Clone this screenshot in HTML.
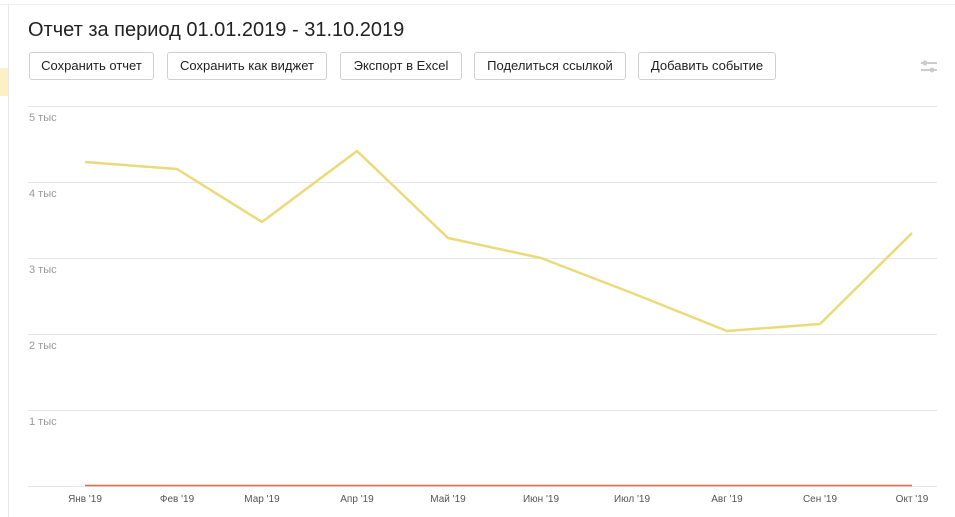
<!DOCTYPE html>
<html><head><meta charset="utf-8"><style>
body{margin:0;width:955px;height:517px;background:#fff;font-family:"Liberation Sans",Arial,sans-serif;position:relative;overflow:hidden}
.btn{position:absolute;top:52px;height:28px;border:1px solid #d0d0d0;border-radius:3px;box-sizing:border-box;font-size:13px;color:#222;text-align:center;line-height:26px;background:#fff}
.yl{position:absolute;left:29px;font-size:11px;color:#999}
.xl{position:absolute;top:494px;font-size:10px;color:#555;width:60px;text-align:center}
</style></head><body>
<div style="position:absolute;left:0;top:4px;width:955px;height:1px;background:#eee"></div>
<div style="position:absolute;left:8px;top:4px;width:1px;height:513px;background:#e8e8e8"></div>
<div style="position:absolute;left:0;top:68px;width:8px;height:28px;background:#fdf0c4"></div>
<div style="position:absolute;left:28px;top:19px;font-size:20px;color:#222">Отчет за период 01.01.2019 - 31.10.2019</div>
<div class="btn" style="left:29px;width:125px">Сохранить отчет</div>
<div class="btn" style="left:167px;width:160px">Сохранить как виджет</div>
<div class="btn" style="left:340px;width:122px">Экспорт в Excel</div>
<div class="btn" style="left:474px;width:152px">Поделиться ссылкой</div>
<div class="btn" style="left:638px;width:138px">Добавить событие</div>
<svg style="position:absolute;left:918px;top:58px" width="22" height="18"><line x1="3" y1="5" x2="19" y2="5" stroke="#ccc" stroke-width="2"/><line x1="3" y1="12" x2="19" y2="12" stroke="#ccc" stroke-width="2"/><circle cx="7" cy="5" r="2.5" fill="#ccc"/><circle cx="14" cy="12" r="2.5" fill="#ccc"/></svg>
<svg style="position:absolute;left:0;top:0" width="955" height="517">
<g stroke="#e6e6e6" stroke-width="1">
<line x1="28" y1="106.5" x2="937" y2="106.5"/><line x1="28" y1="182.5" x2="937" y2="182.5"/><line x1="28" y1="258.5" x2="937" y2="258.5"/><line x1="28" y1="334.5" x2="937" y2="334.5"/><line x1="28" y1="410.5" x2="937" y2="410.5"/><line x1="28" y1="486.5" x2="937" y2="486.5"/>
</g>
<line x1="85" y1="485.5" x2="912" y2="485.5" stroke="#e8664a" stroke-width="1.5"/>
<polyline fill="none" stroke="#ecd97a" stroke-width="2.5" stroke-linejoin="round" points="85,162 177,169 262,222 357,151 448,238 541,258 632,293 727,331 820,324 912,233"/>
</svg>
<div class="yl" style="top:112px">5 тыс</div>
<div class="yl" style="top:188px">4 тыс</div>
<div class="yl" style="top:264px">3 тыс</div>
<div class="yl" style="top:340px">2 тыс</div>
<div class="yl" style="top:416px">1 тыс</div>
<div class="xl" style="left:55px">Янв '19</div>
<div class="xl" style="left:147px">Фев '19</div>
<div class="xl" style="left:232px">Мар '19</div>
<div class="xl" style="left:327px">Апр '19</div>
<div class="xl" style="left:418px">Май '19</div>
<div class="xl" style="left:511px">Июн '19</div>
<div class="xl" style="left:602px">Июл '19</div>
<div class="xl" style="left:697px">Авг '19</div>
<div class="xl" style="left:790px">Сен '19</div>
<div class="xl" style="left:882px">Окт '19</div>
</body></html>
